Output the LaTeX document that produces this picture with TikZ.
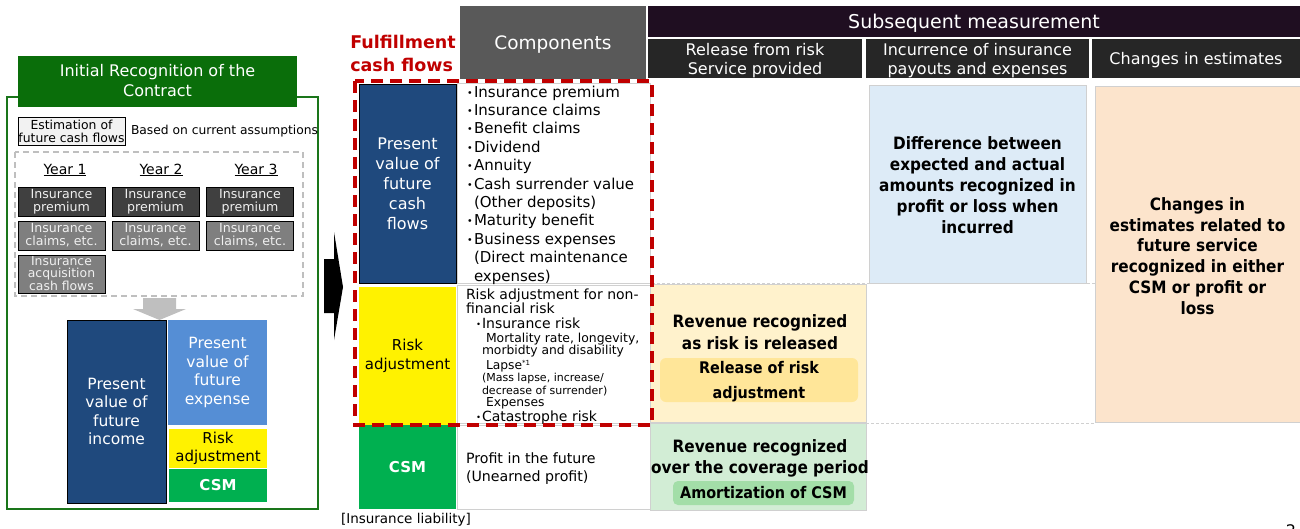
\documentclass[tikz,border=0pt]{standalone}
\usepackage{fontspec}
\setmainfont{DejaVu Sans}
\newfontfamily\cond{DejaVu Sans Condensed}
\newcommand\fsz[2]{\fontsize{#1}{#2}\selectfont}
\newcommand\bul{\makebox[7pt][l]{\raisebox{1pt}{\fsz{9.5}{9}•}}}
\newcommand\sbul{\makebox[6pt][l]{\raisebox{1pt}{\fsz{8.5}{8}•}}}
\definecolor{dgreen}{HTML}{0A6E0A}
\definecolor{fgreen}{HTML}{1A751A}
\definecolor{navy}{HTML}{1F497D}
\definecolor{lblue}{HTML}{558ED5}
\definecolor{csmg}{HTML}{00B050}
\definecolor{dbox}{HTML}{404040}
\definecolor{gbox}{HTML}{7F7F7F}
\definecolor{estg}{HTML}{F2F2F2}
\definecolor{txtg}{HTML}{F0F0F0}
\definecolor{dashg}{HTML}{BFBFBF}
\definecolor{arrg}{HTML}{BFBFBF}
\definecolor{compg}{HTML}{595959}
\definecolor{subh}{HTML}{1F0E21}
\definecolor{subs}{HTML}{262626}
\definecolor{redc}{HTML}{C00000}
\definecolor{pale}{HTML}{DDEBF7}
\definecolor{peach}{HTML}{FCE4CC}
\definecolor{lyel}{HTML}{FFF2CC}
\definecolor{iyel}{HTML}{FFE699}
\definecolor{lgrn}{HTML}{D2EDD5}
\definecolor{igrn}{HTML}{A3DEA8}
\definecolor{cellb}{HTML}{D0D0D0}
\tikzset{
  sbox/.style={draw=black, line width=0.8pt, minimum width=87pt, align=center, text=txtg, font=\fsz{12.6}{13}},
  cell/.style={draw=cellb, line width=0.8pt, fill=white},
  hdr/.style={text=white, align=center},
  bold/.style={align=center, font=\cond\bfseries\fsz{17}{21}},
  rtxt/.style={anchor=base west},
}
\begin{document}
\begin{tikzpicture}[x=1pt,y=-1pt, every node/.style={inner sep=0pt, outer sep=0pt}]
\useasboundingbox (0,0) rectangle (1300,528);

% ---------------- left panel ----------------
\draw[draw=fgreen, line width=2pt] (7,97) rectangle (318,509);
\node[fill=dgreen, minimum width=279pt, minimum height=51pt, hdr, font=\fsz{16}{20}] (title) at (157.5,81) {Initial Recognition of the\\Contract};
\node[draw=black, line width=1pt, fill=estg, minimum width=107pt, minimum height=28pt, align=center, font=\fsz{12.4}{13}] (est) at (71.5,131) {Estimation of\\future cash flows};
\node[anchor=west, font=\fsz{12.3}{14}] (based) at (131,131) {Based on current assumptions};
\draw[draw=dashg, line width=1.3pt, dash pattern=on 6pt off 4pt] (15,152) rectangle (303,296);
\node[font=\fsz{14}{16}] (y1) at (65,170) {\underline{Year 1}};
\node[font=\fsz{14}{16}] (y2) at (161,170) {\underline{Year 2}};
\node[font=\fsz{14}{16}] (y3) at (256,170) {\underline{Year 3}};
\node[sbox, fill=dbox, minimum height=29pt] (p1) at (61.5,201.5) {Insurance\\premium};
\node[sbox, fill=dbox, minimum height=29pt] (p2) at (155.5,201.5) {Insurance\\premium};
\node[sbox, fill=dbox, minimum height=29pt] (p3) at (250,201.5) {Insurance\\premium};
\node[sbox, fill=gbox, minimum height=29pt] (c1) at (61.5,235.5) {Insurance\\claims, etc.};
\node[sbox, fill=gbox, minimum height=29pt] (c2) at (155.5,235.5) {Insurance\\claims, etc.};
\node[sbox, fill=gbox, minimum height=29pt] (c3) at (250,235.5) {Insurance\\claims, etc.};
\node[sbox, fill=gbox, minimum height=38pt, font=\fsz{12.4}{12}] (acq) at (61.5,274) {Insurance\\acquisition\\cash flows};
\fill[arrg] (143,298) -- (176,298) -- (176,309) -- (186,309) -- (159.5,320) -- (133,309) -- (143,309) -- cycle;
\node[draw=black, line width=0.8pt, fill=navy, minimum width=99pt, minimum height=183pt, hdr, font=\fsz{15.5}{18.5}] (inc) at (116.5,411.5) {Present\\value of\\future\\income};
\node[fill=lblue, minimum width=99pt, minimum height=105pt, hdr, font=\fsz{15.5}{18.5}] (exp) at (217.5,372.5) {Present\\value of\\future\\expense};
\node[fill=yellow, minimum width=98pt, minimum height=39pt, align=center, font=\fsz{15}{18}] (ra1) at (218,448) {Risk\\adjustment};
\node[fill=csmg, minimum width=98pt, minimum height=33pt, hdr, font=\bfseries\fsz{15}{18}] (csm1) at (218,485.5) {CSM};

% black arrow
\fill[black] (324,259) -- (334,259) -- (334,232) -- (343,287) -- (334,340) -- (334,313) -- (324,313) -- cycle;

% ---------------- middle ----------------
\node[text=redc, align=left, font=\bfseries\fsz{17.5}{23}] (ffc) at (403,53.5) {Fulfillment\\cash flows};
\node[fill=compg, minimum width=186pt, minimum height=73pt, hdr, font=\fsz{18.5}{22}] (comp) at (553,42.5) {};
\node[hdr, font=\fsz{18.5}{22}] (compt) at (553,44.5) {Components};
\node[fill=subh, minimum width=652pt, minimum height=31pt] (subm) at (974,21.5) {};
\node[hdr, font=\fsz{19}{22}] (submt) at (974,23) {Subsequent measurement};
\node[fill=subs, minimum width=214pt, minimum height=39pt] (sh1) at (755,58.5) {};
\node[fill=subs, minimum width=223pt, minimum height=39pt] (sh2) at (977.5,58.5) {};
\node[fill=subs, minimum width=208pt, minimum height=39pt] (sh3) at (1196,58.5) {};
\node[hdr, font=\fsz{16}{19}] (sh1t) at (755,60.5) {Release from risk\\Service provided};
\node[hdr, font=\fsz{16}{19}] (sh2t) at (977.5,60.5) {Incurrence of insurance\\payouts and expenses};
\node[hdr, font=\fsz{16}{19}] (sh3t) at (1196,60.5) {Changes in estimates};

\node[draw=black, line width=0.8pt, fill=navy, minimum width=97pt, minimum height=199pt, hdr, font=\fsz{16}{20}] (pv) at (407.5,184) {Present\\value of\\future\\cash\\flows};
\node[cell, minimum width=193pt, minimum height=200pt] (pvc) at (553.5,183) {};
\node[anchor=north west, align=left, font=\fsz{15}{18.4}] (clist) at (467,85.6) {\bul Insurance premium\\ \bul Insurance claims\\ \bul Benefit claims\\ \bul Dividend\\ \bul Annuity\\ \bul Cash surrender value\\ \hspace*{7pt}(Other deposits)\\ \bul Maturity benefit\\ \bul Business expenses\\ \hspace*{7pt}(Direct maintenance\\ \hspace*{7pt}expenses)};

\node[fill=yellow, minimum width=97pt, minimum height=138pt, align=center, font=\fsz{15}{19}] (ra) at (407.5,356) {Risk\\adjustment};
\node[cell, minimum width=193pt, minimum height=138pt] (rac) at (553.5,354) {};
\node[rtxt, font=\fsz{14}{14}] (r1) at (466,299) {Risk adjustment for non-};
\node[rtxt, font=\fsz{14}{14}] (r2) at (466,313) {financial risk};
\node[rtxt, font=\fsz{14}{14}] (r3) at (476,328) {\sbul Insurance risk};
\node[rtxt, font=\fsz{12.4}{13}] (r4) at (486,342.6) {Mortality rate, longevity,};
\node[rtxt, font=\fsz{12.3}{13}] (r5) at (482,354.5) {morbidty and disability};
\node[rtxt, font=\fsz{12.3}{13}] (r6) at (486,369.3) {Lapse\raisebox{4pt}{\fsz{7}{7}*1}};
\node[rtxt, font=\fsz{11}{12}] (r7) at (482,381.2) {(Mass lapse, increase/};
\node[rtxt, font=\fsz{11}{12}] (r8) at (482,394) {decrease of surrender)};
\node[rtxt, font=\fsz{12.3}{13}] (r9) at (486,406.8) {Expenses};
\node[rtxt, font=\fsz{14}{14}] (r10) at (476,421.5) {\sbul Catastrophe risk};

\node[fill=csmg, minimum width=97pt, minimum height=84pt, hdr, font=\bfseries\fsz{15}{18}] (csm2) at (407.5,467) {CSM};
\node[cell, minimum width=193pt, minimum height=84pt] (csmc) at (553.5,467) {};
\node[anchor=west, align=left, font=\fsz{14.2}{18}] (csmt) at (466,469) {Profit in the future\\(Unearned profit)};
\node[rtxt, font=\fsz{13.5}{14}] (liab) at (341,523) {[Insurance liability]};

% ---------------- right ----------------
\draw[draw=cellb, line width=0.8pt, dash pattern=on 3pt off 2pt] (652,283) -- (1095,283);
\draw[draw=cellb, line width=0.8pt, dash pattern=on 3pt off 2pt] (866,423) -- (1095,423);
\node[fill=pale, draw=cellb, line width=0.8pt, minimum width=217pt, minimum height=198pt] (diff) at (977.5,184) {};
\node[bold] (difft) at (977.5,185) {Difference between\\expected and actual\\amounts recognized in\\profit or loss when\\incurred};
\node[fill=peach, draw=cellb, line width=0.8pt, minimum width=205pt, minimum height=336pt] (chg) at (1197.5,254) {};
\node[bold, font=\cond\bfseries\fsz{17}{20.8}] (chgt) at (1197.5,256) {Changes in\\estimates related to\\future service\\recognized in either\\CSM or profit or\\loss};
\node[fill=lyel, draw=cellb, line width=0.8pt, minimum width=216pt, minimum height=138pt] (rel) at (758,353) {};
\node[bold, font=\cond\bfseries\fsz{17}{22}] (relt) at (760,332) {Revenue recognized\\as risk is released};
\node[fill=iyel, rounded corners=6pt, minimum width=198pt, minimum height=44pt] (rely) at (759,380) {};
\node[bold, font=\cond\bfseries\fsz{16}{25}] (relyt) at (759,381.5) {Release of risk\\adjustment};
\node[fill=lgrn, draw=cellb, line width=0.8pt, minimum width=216pt, minimum height=87pt] (amo) at (758,466.5) {};
\node[bold, font=\cond\bfseries\fsz{17}{21}] (amot) at (760,458.5) {Revenue recognized\\over the coverage period};
\node[fill=igrn, rounded corners=5pt, minimum width=181pt, minimum height=24pt, font=\cond\bfseries\fsz{16}{18}] (amog) at (763.5,493) {Amortization of CSM};

% red dashed frame
\draw[draw=redc, line width=3.5pt, dash pattern=on 12pt off 7pt] (355,81) rectangle (652,425);

\node[font=\fsz{16}{16}] (pg) at (1291,531) {2};
\end{tikzpicture}
\end{document}
